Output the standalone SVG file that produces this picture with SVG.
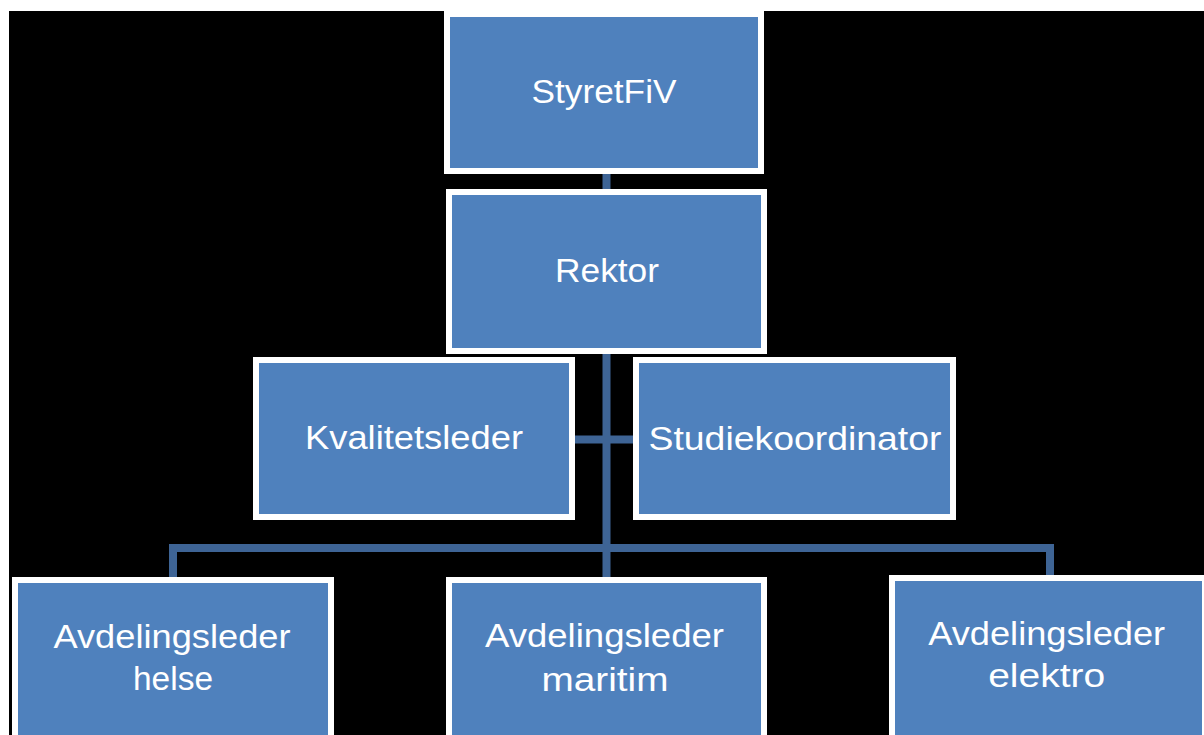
<svg xmlns="http://www.w3.org/2000/svg" width="1204" height="735" viewBox="0 0 1204 735">
<style>
.box{fill:#4F81BD;stroke:#FFFFFF;stroke-width:6}
.lbl{font-family:"Liberation Sans",Arial,sans-serif;font-size:33px;fill:#FFFFFF;text-anchor:middle}
.con{stroke:#3E6495;fill:none;stroke-width:8}
</style>
<rect x="0" y="0" width="1204" height="735" fill="#000000"/>
<rect x="0" y="0" width="1204" height="11" fill="#FFFFFF"/>
<rect x="0" y="0" width="9" height="735" fill="#FFFFFF"/>
<g id="connectors">
<line class="con" x1="606.5" y1="170" x2="606.5" y2="580"/>
<line class="con" x1="572" y1="439.5" x2="636" y2="439.5" stroke-width="6"/>
<polyline class="con" points="173,580 173,548 1050,548 1050,580" stroke-width="7"/>
</g>
<g id="n-styret">
<rect class="box" x="447" y="14" width="314" height="157"/>
<text class="lbl" x="604" y="103" textLength="145" lengthAdjust="spacingAndGlyphs">StyretFiV</text>
</g>
<g id="n-rektor">
<rect class="box" x="449" y="192" width="315" height="159"/>
<text class="lbl" x="607" y="282" textLength="104" lengthAdjust="spacingAndGlyphs">Rektor</text>
</g>
<g id="n-kvalitet">
<rect class="box" x="256" y="360" width="316" height="157"/>
<text class="lbl" x="414" y="449" textLength="218" lengthAdjust="spacingAndGlyphs">Kvalitetsleder</text>
</g>
<g id="n-studie">
<rect class="box" x="636" y="360" width="317" height="157"/>
<text class="lbl" x="795" y="450" textLength="293" lengthAdjust="spacingAndGlyphs">Studiekoordinator</text>
</g>
<g id="n-helse">
<rect class="box" x="15" y="580" width="316" height="170"/>
<text class="lbl" x="172" y="648" textLength="237" lengthAdjust="spacingAndGlyphs">Avdelingsleder</text>
<text class="lbl" x="173" y="690" textLength="80" lengthAdjust="spacingAndGlyphs">helse</text>
</g>
<g id="n-maritim">
<rect class="box" x="449" y="580" width="315" height="170"/>
<text class="lbl" x="604.5" y="647" textLength="239" lengthAdjust="spacingAndGlyphs">Avdelingsleder</text>
<text class="lbl" x="605" y="691" textLength="127" lengthAdjust="spacingAndGlyphs">maritim</text>
</g>
<g id="n-elektro">
<rect class="box" x="892" y="578" width="313" height="172"/>
<text class="lbl" x="1046.7" y="645" textLength="237" lengthAdjust="spacingAndGlyphs">Avdelingsleder</text>
<text class="lbl" x="1046.7" y="687" textLength="117" lengthAdjust="spacingAndGlyphs">elektro</text>
</g>
</svg>
